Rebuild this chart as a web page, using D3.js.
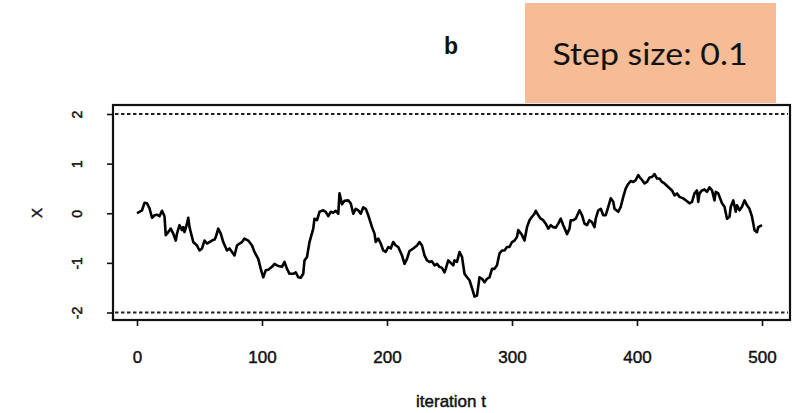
<!DOCTYPE html>
<html>
<head>
<meta charset="utf-8">
<script src="https://cdn.jsdelivr.net/npm/d3@7"></script>
<style>
  body { margin: 0; background: #fff; }
  svg { display: block; }
  text { font-family: "Liberation Sans", Arial, Helvetica, sans-serif; fill: #111; }
  .scan { stroke: #111; stroke-width: 0.45px; }
</style>
</head>
<body>
<svg width="797" height="413"></svg>
<script>
// chain trace: iteration t and state X
var iteration = [0, 4, 6, 8, 10, 12, 14, 16, 18, 20, 22, 23, 25, 27, 29, 31, 32, 34, 36, 37, 38, 40, 41, 42, 45, 48, 50, 52, 54, 56, 58, 60, 62, 63, 65, 67, 69, 72, 74, 76, 78, 80, 82, 84, 86, 89, 92, 94, 97, 99, 101, 103, 105, 108, 110, 112, 114, 116, 118, 120, 122, 125, 127, 129, 131, 133, 134, 136, 138, 141, 142, 144, 146, 149, 151, 153, 155, 157, 159, 161, 162, 164, 166, 169, 171, 173, 175, 177, 179, 181, 183, 185, 188, 190, 191, 193, 195, 197, 199, 201, 203, 205, 207, 209, 212, 214, 216, 218, 221, 224, 226, 228, 230, 232, 234, 236, 238, 240, 242, 244, 246, 247, 249, 253, 254, 256, 258, 260, 262, 264, 266, 269, 270, 272, 274, 276, 278, 280, 282, 284, 286, 288, 290, 292, 294, 296, 298, 300, 302, 304, 305, 308, 310, 312, 314, 316, 318, 319, 321, 323, 325, 327, 329, 331, 333, 335, 337, 339, 341, 344, 346, 347, 349, 351, 354, 356, 358, 360, 362, 364, 366, 367, 369, 371, 373, 375, 377, 379, 381, 382, 385, 387, 389, 391, 393, 395, 397, 399, 401, 402, 404, 406, 408, 410, 412, 414, 416, 418, 420, 422, 425, 428, 430, 432, 434, 437, 439, 442, 444, 446, 448, 449, 450, 452, 454, 456, 458, 460, 462, 463, 465, 468, 470, 472, 474, 475, 477, 479, 480, 482, 484, 486, 488, 490, 492, 494, 496, 497, 500];
var xValue = [0.0, 0.06, 0.21, 0.2, 0.1, -0.09, -0.04, -0.03, -0.06, 0.05, -0.06, -0.44, -0.38, -0.31, -0.41, -0.55, -0.41, -0.24, -0.34, -0.28, -0.38, -0.21, -0.09, -0.28, -0.58, -0.65, -0.75, -0.71, -0.55, -0.61, -0.58, -0.55, -0.53, -0.48, -0.31, -0.41, -0.58, -0.75, -0.71, -0.78, -0.85, -0.65, -0.61, -0.58, -0.51, -0.55, -0.65, -0.78, -0.92, -1.12, -1.29, -1.15, -1.14, -1.08, -1.02, -1.05, -1.07, -1.08, -0.98, -1.12, -1.22, -1.22, -1.19, -1.29, -1.3, -1.22, -0.95, -0.88, -0.58, -0.31, -0.11, -0.14, 0.03, 0.06, 0.03, -0.06, 0.03, 0.01, 0.05, -0.01, 0.4, 0.18, 0.25, 0.26, 0.2, -0.01, 0.09, 0.06, -0.01, 0.12, 0.09, -0.04, -0.28, -0.41, -0.58, -0.51, -0.61, -0.75, -0.78, -0.68, -0.71, -0.58, -0.65, -0.68, -0.85, -1.02, -0.92, -0.76, -0.71, -0.65, -0.58, -0.65, -0.85, -0.95, -0.98, -0.97, -1.05, -1.02, -1.08, -1.1, -1.19, -1.12, -0.95, -1.05, -0.95, -0.98, -0.78, -0.88, -1.22, -1.29, -1.35, -1.59, -1.68, -1.66, -1.29, -1.32, -1.39, -1.32, -1.29, -1.12, -1.12, -1.05, -0.81, -0.75, -0.75, -0.68, -0.68, -0.58, -0.55, -0.48, -0.34, -0.44, -0.55, -0.28, -0.14, -0.07, -0.01, 0.05, -0.04, -0.11, -0.14, -0.21, -0.31, -0.24, -0.28, -0.29, -0.21, -0.11, -0.24, -0.42, -0.31, -0.14, -0.14, -0.11, 0.06, -0.04, -0.21, -0.24, -0.14, -0.18, -0.28, -0.11, 0.06, 0.09, -0.04, -0.04, 0.13, 0.3, 0.23, 0.09, 0.03, 0.13, 0.33, 0.5, 0.59, 0.65, 0.63, 0.67, 0.77, 0.73, 0.67, 0.6, 0.63, 0.72, 0.73, 0.79, 0.7, 0.7, 0.63, 0.6, 0.53, 0.46, 0.36, 0.4, 0.33, 0.3, 0.26, 0.2, 0.23, 0.4, 0.46, 0.23, 0.4, 0.46, 0.48, 0.43, 0.52, 0.46, 0.26, 0.43, 0.4, 0.2, 0.13, -0.11, -0.07, 0.13, 0.26, 0.03, 0.16, 0.06, 0.13, 0.26, 0.16, 0.09, -0.07, -0.34, -0.38, -0.28, -0.24];
var xTicks = [0, 100, 200, 300, 400, 500];
var yTicks = [-2, -1, 0, 1, 2];
var bounds = [-2, 2];   // dashed reference lines
var title = 'b';
var note = 'Step size: 0.1';

var data = iteration.map(function (t, i) { return { t: t, v: xValue[i] }; });

var svg = d3.select('svg');
var L = 113, R = 790, T = 105, B = 320;

var x = d3.scaleLinear().domain([0, 500]).range([137, 762]);
var y = d3.scaleLinear().domain([-2, 2]).range([312.5, 114]);

// dashed limits
svg.selectAll('line.bound')
    .data(bounds)
    .enter()
    .append('line')
    .attr('class', 'bound')
    .attr('x1', L + 2).attr('x2', R - 2)
    .attr('y1', function (d) { return y(d); })
    .attr('y2', function (d) { return y(d); })
    .attr('stroke', '#222')
    .attr('stroke-width', 2)
    .attr('stroke-dasharray', '3.5,2.5');

// trace
var line = d3.line()
    .x(function (d) { return x(d.t); })
    .y(function (d) { return y(d.v); });
svg.append('path')
    .datum(data)
    .attr('d', line)
    .attr('fill', 'none')
    .attr('stroke', '#000')
    .attr('stroke-width', 2.6)
    .attr('stroke-linejoin', 'round');

// frame
svg.append('rect')
    .attr('x', L).attr('y', T)
    .attr('width', R - L).attr('height', B - T)
    .attr('fill', 'none')
    .attr('stroke', '#111')
    .attr('stroke-width', 2.2);

// x axis
var gx = svg.append('g')
    .attr('transform', 'translate(0,' + B + ')')
    .call(d3.axisBottom(x).tickValues(xTicks).tickSize(6).tickFormat(d3.format('d')));
gx.select('.domain').remove();
gx.selectAll('.tick line').attr('stroke', '#111').attr('stroke-width', 1.6);
gx.selectAll('.tick text')
    .attr('class', 'scan')
    .attr('dy', 0)
    .attr('y', 43)
    .style('font-size', '17px');

// y axis, labels rotated like R's default
var gy = svg.append('g')
    .attr('transform', 'translate(' + L + ',0)')
    .call(d3.axisLeft(y).tickValues(yTicks).tickSize(6).tickFormat(d3.format('d')));
gy.select('.domain').remove();
gy.selectAll('.tick line').attr('stroke', '#111').attr('stroke-width', 1.6);
gy.selectAll('.tick text')
    .attr('class', 'scan')
    .attr('transform', 'rotate(-90)')
    .attr('x', 0).attr('y', -31).attr('dy', 0)
    .attr('text-anchor', 'middle')
    .style('font-size', '14px')
    .text(function (d) { return d; });

svg.selectAll('.tick text').style('fill', '#111').style('font-family', '"Liberation Sans", Arial, sans-serif');

// axis titles
svg.append('text')
    .attr('class', 'scan')
    .attr('transform', 'translate(42,213) rotate(-90)')
    .attr('text-anchor', 'middle')
    .style('font-size', '15px')
    .text('X');
svg.append('text')
    .attr('class', 'scan')
    .attr('x', 451).attr('y', 407)
    .attr('text-anchor', 'middle')
    .style('font-size', '17px')
    .text('iteration t');
svg.append('text')
    .attr('x', 451).attr('y', 54)
    .attr('text-anchor', 'middle')
    .style('font-size', '23px')
    .style('font-weight', 'bold')
    .text(title);

// annotation box
svg.append('rect')
    .attr('x', 525).attr('y', 3)
    .attr('width', 251).attr('height', 100)
    .attr('fill', '#F5BC96');
svg.append('text')
    .attr('x', 650).attr('y', 65)
    .attr('text-anchor', 'middle')
    .attr('textLength', 195)
    .attr('lengthAdjust', 'spacingAndGlyphs')
    .style('font-family', 'Lato, "Open Sans", sans-serif')
    .style('font-size', '30px')
    .style('fill', '#111')
    .text(note);
</script>
</body>
</html>
